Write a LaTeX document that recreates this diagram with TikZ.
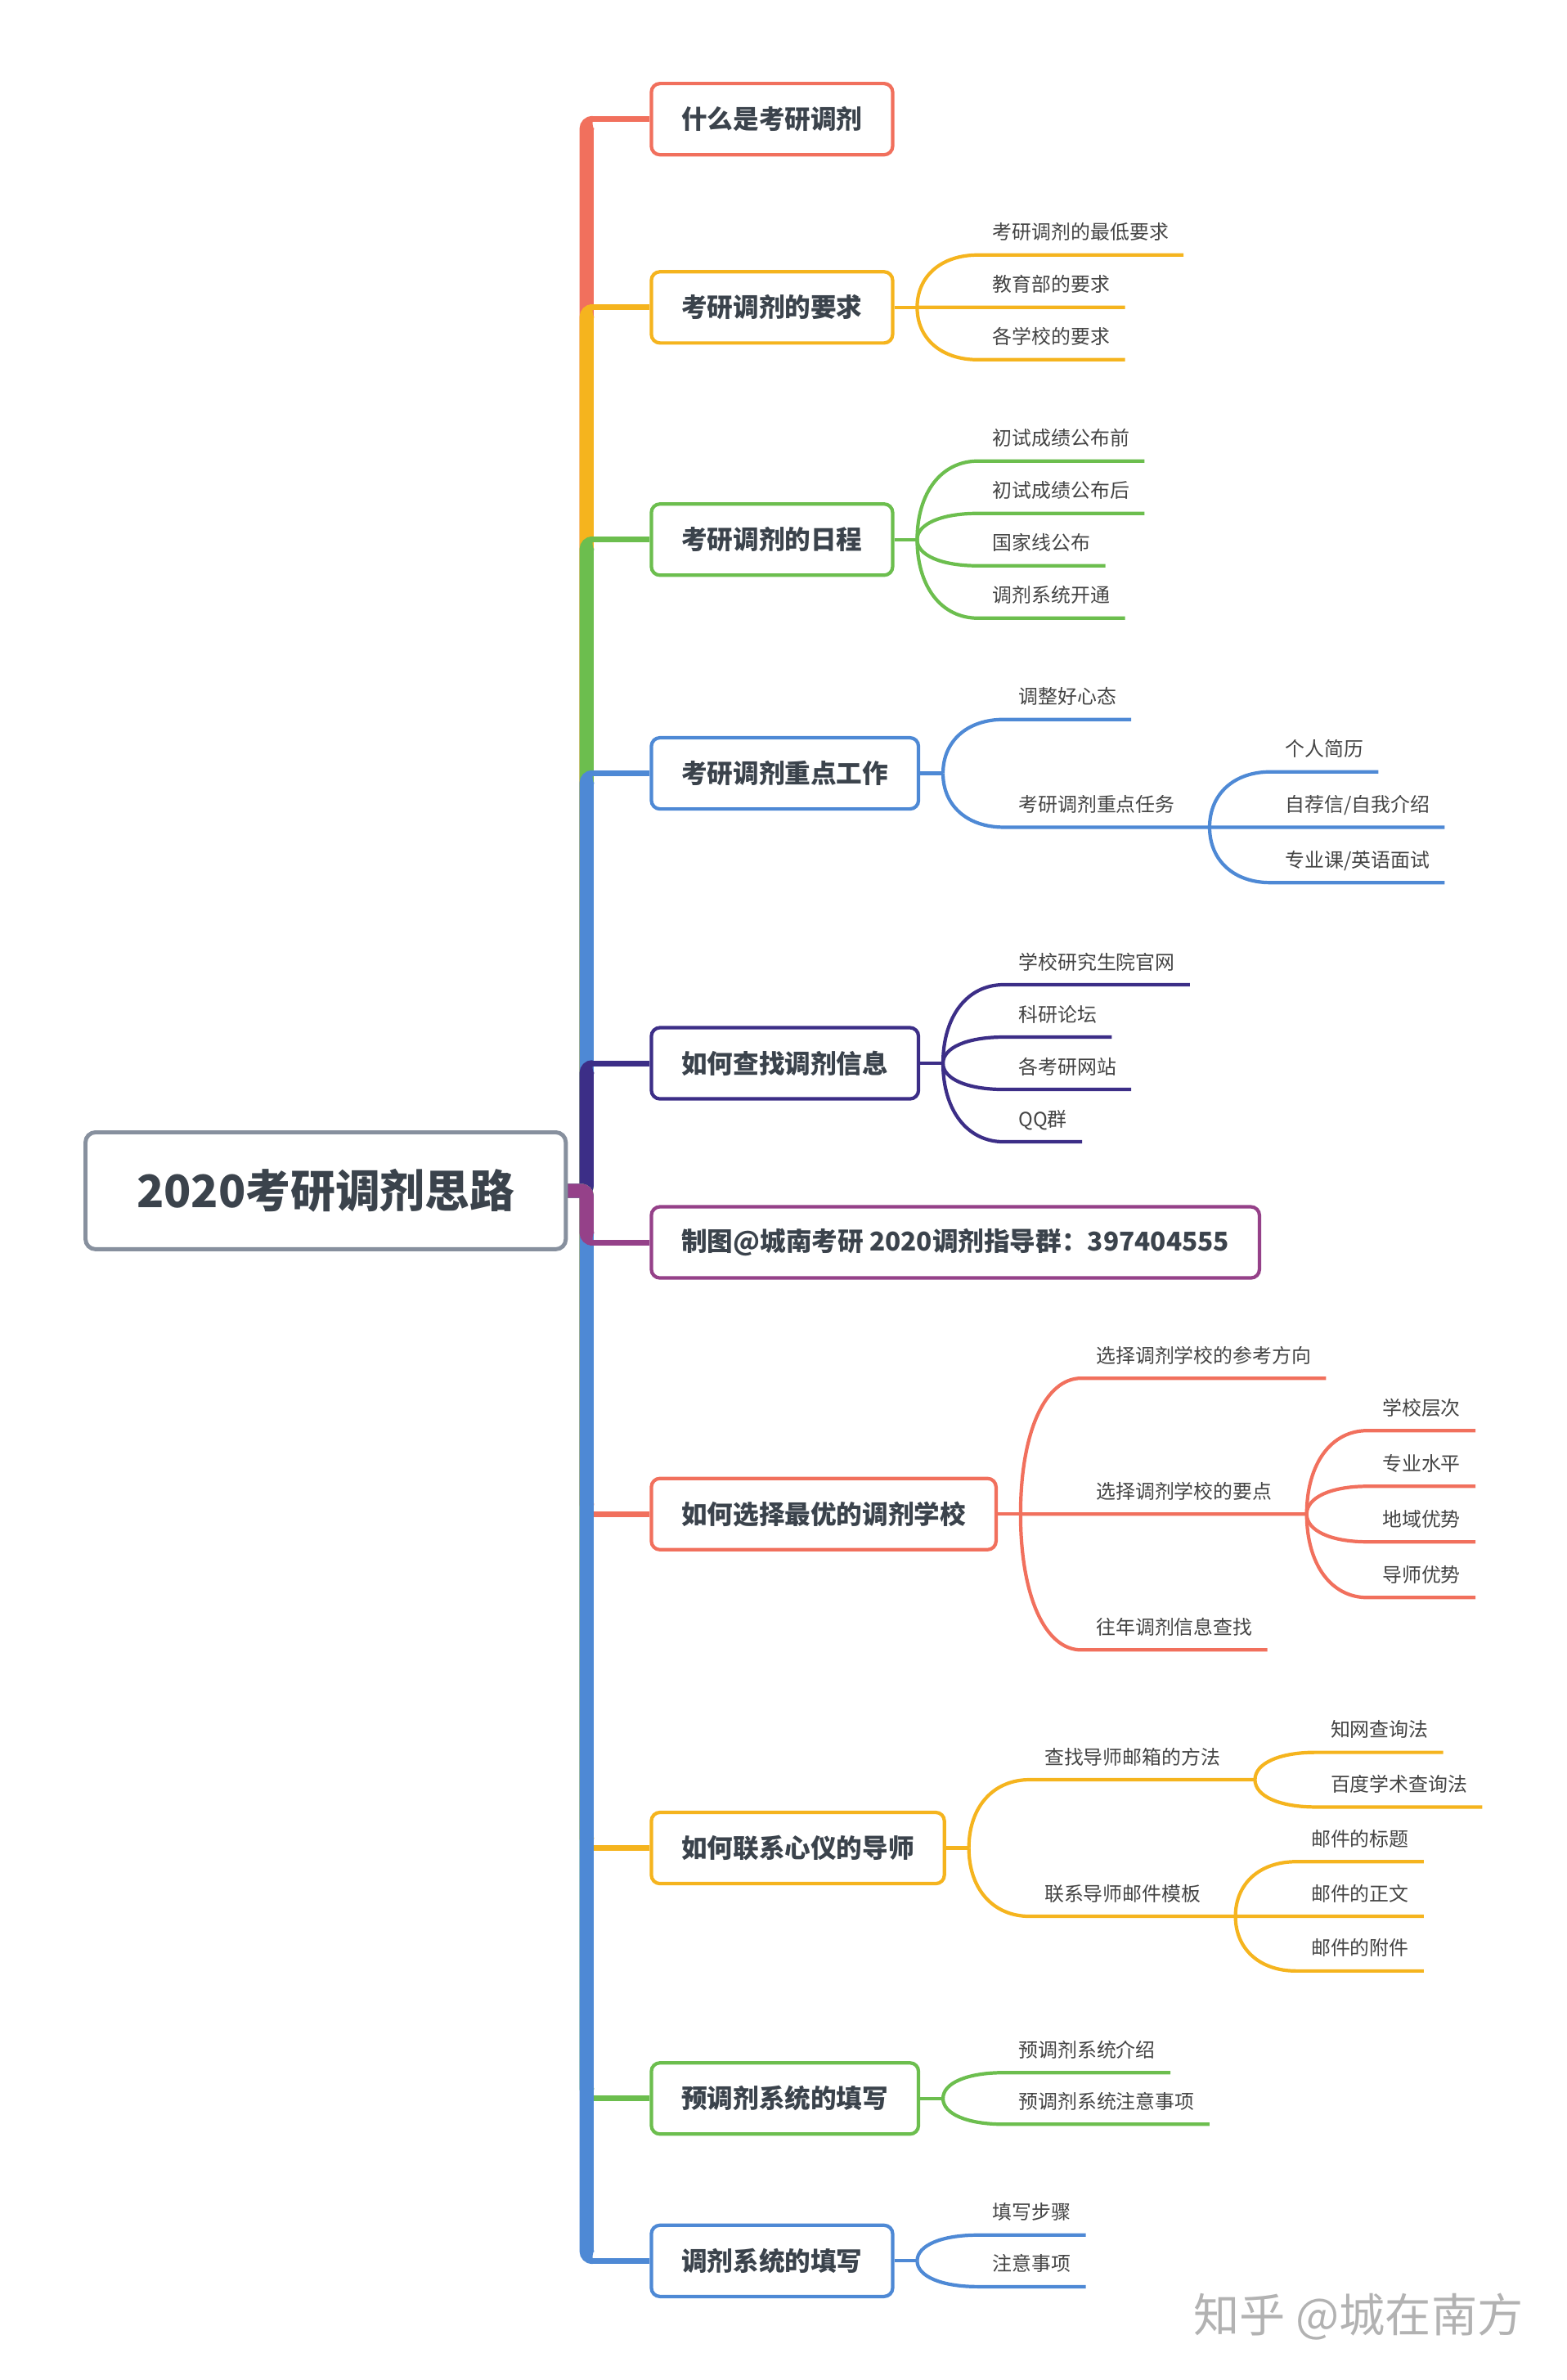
\documentclass[tikz,border=0pt]{standalone}
\usepackage{fontspec}
\setmainfont{Noto Sans CJK SC}
\usetikzlibrary{calc}

\definecolor{cred}{HTML}{F1705D}
\definecolor{corange}{HTML}{F5B41E}
\definecolor{cgreen}{HTML}{6CBE4E}
\definecolor{cblue}{HTML}{4E89D5}
\definecolor{cpurple}{HTML}{3C2E87}
\definecolor{cmagenta}{HTML}{954189}
\definecolor{cgray}{HTML}{87909E}
\definecolor{topictxt}{HTML}{3B434C}
\definecolor{leaftxt}{HTML}{444444}

\tikzset{
  rootbox/.style={draw=cgray, line width=1.4pt, rounded corners=3.5pt, fill=white, text=topictxt,
    font=\bfseries\fontsize{15.6}{19}\selectfont, inner xsep=17.8pt, minimum height=40.7pt, anchor=west},
  topic/.style={draw=#1, line width=1.2pt, rounded corners=3pt, fill=white, text=topictxt,
    font=\bfseries\fontsize{9}{11}\selectfont, inner xsep=10.5pt, minimum height=24.8pt, anchor=west},
  leaf/.style={text=leaftxt, font=\fontsize{6.8}{8}\selectfont, inner xsep=5pt, inner ysep=5.2pt,
    text depth=0pt, anchor=south west},
  trunk/.style={draw=#1, line width=4.9pt, rounded corners=2pt},
  twig/.style={draw=#1, line width=1.2pt},
  zhihu/.style={text=gray!60, font=\fontsize{16}{19}\selectfont},
}

% spine from the root to a topic: colour, topic, offset of the corner
\newcommand{\limb}[3]{%
  \draw[trunk=#1] (root.east) -- (hub) -- ($(hub |- #2.west)+(0,#3)$) -- ++(4,0);
  \draw[twig=#1, line width=2pt] ($(hub |- #2.west)+(2,0)$) -- (#2.west);}
% curved twig from a junction to a leaf
\newcommand{\twigto}[3]{%
  \draw[twig=#1] (#2) .. controls ($(#2)!0.6!(#2 |- #3.south west)$)
    and ($(#3.south west)!0.6!(#2 |- #3.south west)$) .. (#3.south west)}

\begin{document}
\begin{tikzpicture}[x=0.018566cm, y=-0.018566cm]
\useasboundingbox (0,0) rectangle (1032,1568);

\node[rootbox] (root) at (55,784.5) {2020考研调剂思路};
\coordinate (hub) at (386.5,0 |- root.east);

\node[topic=cred] (t1) at (428,78.5) {什么是考研调剂};
\node[topic=corange] (t2) at (428,202.5) {考研调剂的要求};
\node[topic=cgreen] (t3) at (428,355.5) {考研调剂的日程};
\node[topic=cblue] (t4) at (428,509.5) {考研调剂重点工作};
\node[topic=cpurple] (t5) at (428,700.5) {如何查找调剂信息};
\node[topic=cmagenta] (t6) at (428,818.5) {制图@城南考研 2020调剂指导群：397404555};
\node[topic=cred] (t7) at (428,997.5) {如何选择最优的调剂学校};
\node[topic=corange] (t8) at (428,1217.5) {如何联系心仪的导师};
\node[topic=cgreen] (t9) at (428,1382.5) {预调剂系统的填写};
\node[topic=cblue] (t10) at (428,1489.5) {调剂系统的填写};

\limb{cred}{t1}{2.6}
\limb{corange}{t2}{2.6}
\limb{cgreen}{t3}{2.6}
\limb{cblue}{t4}{2.6}
\limb{cpurple}{t5}{2.6}
\limb{cred}{t7}{-2.6}
\limb{corange}{t8}{-2.6}
\limb{cgreen}{t9}{-2.6}
\limb{cblue}{t10}{-2.6}
\limb{cmagenta}{t6}{-2.6}

% 考研调剂的要求
\coordinate (j2) at ($(t2.east)+(15,0)$);
\node[leaf] (c21) at ($(j2)+(40,-34.5)$) {考研调剂的最低要求};
\node[leaf] (c22) at ($(j2)+(40,0)$) {教育部的要求};
\node[leaf] (c23) at ($(j2)+(40,34.5)$) {各学校的要求};
\draw[twig=corange] (t2.east) -- (j2);
\twigto{corange}{j2}{c21} -- (c21.south east);
\twigto{corange}{j2}{c22} -- (c22.south east);
\twigto{corange}{j2}{c23} -- (c23.south east);

% 考研调剂的日程
\coordinate (j3) at ($(t3.east)+(15,0)$);
\node[leaf] (c31) at ($(j3)+(40,-51.75)$) {初试成绩公布前};
\node[leaf] (c32) at ($(j3)+(40,-17.25)$) {初试成绩公布后};
\node[leaf] (c33) at ($(j3)+(40,17.25)$) {国家线公布};
\node[leaf] (c34) at ($(j3)+(40,51.75)$) {调剂系统开通};
\draw[twig=cgreen] (t3.east) -- (j3);
\twigto{cgreen}{j3}{c31} -- (c31.south east);
\twigto{cgreen}{j3}{c32} -- (c32.south east);
\twigto{cgreen}{j3}{c33} -- (c33.south east);
\twigto{cgreen}{j3}{c34} -- (c34.south east);

% 考研调剂重点工作
\coordinate (j4) at ($(t4.east)+(15,0)$);
\node[leaf] (c41) at ($(j4)+(40,-35.5)$) {调整好心态};
\node[leaf] (c42) at ($(j4)+(40,35.5)$) {考研调剂重点任务};
\coordinate (j42) at ($(c42.south east)+(13,0)$);
\node[leaf] (g421) at ($(j42)+(40,-36.5)$) {个人简历};
\node[leaf] (g422) at ($(j42)+(40,0)$) {自荐信/自我介绍};
\node[leaf] (g423) at ($(j42)+(40,36.5)$) {专业课/英语面试};
\draw[twig=cblue] (t4.east) -- (j4);
\twigto{cblue}{j4}{c41} -- (c41.south east);
\twigto{cblue}{j4}{c42} -- (j42);
\twigto{cblue}{j42}{g421} -- (g421.south east);
\twigto{cblue}{j42}{g422} -- (g422.south east);
\twigto{cblue}{j42}{g423} -- (g423.south east);

% 如何查找调剂信息
\coordinate (j5) at ($(t5.east)+(15,0)$);
\node[leaf] (c51) at ($(j5)+(40,-51.75)$) {学校研究生院官网};
\node[leaf] (c52) at ($(j5)+(40,-17.25)$) {科研论坛};
\node[leaf] (c53) at ($(j5)+(40,17.25)$) {各考研网站};
\node[leaf] (c54) at ($(j5)+(40,51.75)$) {QQ群};
\draw[twig=cpurple] (t5.east) -- (j5);
\twigto{cpurple}{j5}{c51} -- (c51.south east);
\twigto{cpurple}{j5}{c52} -- (c52.south east);
\twigto{cpurple}{j5}{c53} -- (c53.south east);
\twigto{cpurple}{j5}{c54} -- (c54.south east);

% 如何选择最优的调剂学校
\coordinate (j7) at ($(t7.east)+(15,0)$);
\node[leaf] (c71) at ($(j7)+(40,-89.5)$) {选择调剂学校的参考方向};
\node[leaf] (c72) at ($(j7)+(40,0)$) {选择调剂学校的要点};
\node[leaf] (c73) at ($(j7)+(40,89.5)$) {往年调剂信息查找};
\coordinate (j72) at ($(c72.south east)+(13,0)$);
\node[leaf] (g721) at ($(j72)+(40,-55)$) {学校层次};
\node[leaf] (g722) at ($(j72)+(40,-18.3)$) {专业水平};
\node[leaf] (g723) at ($(j72)+(40,18.3)$) {地域优势};
\node[leaf] (g724) at ($(j72)+(40,55)$) {导师优势};
\draw[twig=cred] (t7.east) -- (j7);
\twigto{cred}{j7}{c71} -- (c71.south east);
\twigto{cred}{j7}{c72} -- (j72);
\twigto{cred}{j7}{c73} -- (c73.south east);
\twigto{cred}{j72}{g721} -- (g721.south east);
\twigto{cred}{j72}{g722} -- (g722.south east);
\twigto{cred}{j72}{g723} -- (g723.south east);
\twigto{cred}{j72}{g724} -- (g724.south east);

% 如何联系心仪的导师
\coordinate (j8) at ($(t8.east)+(15,0)$);
\node[leaf] (c81) at ($(j8)+(40,-45)$) {查找导师邮箱的方法};
\node[leaf] (c82) at ($(j8)+(40,45)$) {联系导师邮件模板};
\coordinate (j81) at ($(c81.south east)+(13,0)$);
\coordinate (j82) at ($(c82.south east)+(13,0)$);
\node[leaf] (g811) at ($(j81)+(40,-18)$) {知网查询法};
\node[leaf] (g812) at ($(j81)+(40,18)$) {百度学术查询法};
\node[leaf] (g821) at ($(j82)+(40,-36)$) {邮件的标题};
\node[leaf] (g822) at ($(j82)+(40,0)$) {邮件的正文};
\node[leaf] (g823) at ($(j82)+(40,36)$) {邮件的附件};
\draw[twig=corange] (t8.east) -- (j8);
\twigto{corange}{j8}{c81} -- (j81);
\twigto{corange}{j8}{c82} -- (j82);
\twigto{corange}{j81}{g811} -- (g811.south east);
\twigto{corange}{j81}{g812} -- (g812.south east);
\twigto{corange}{j82}{g821} -- (g821.south east);
\twigto{corange}{j82}{g822} -- (g822.south east);
\twigto{corange}{j82}{g823} -- (g823.south east);

% 预调剂系统的填写
\coordinate (j9) at ($(t9.east)+(15,0)$);
\node[leaf] (c91) at ($(j9)+(40,-17)$) {预调剂系统介绍};
\node[leaf] (c92) at ($(j9)+(40,17)$) {预调剂系统注意事项};
\draw[twig=cgreen] (t9.east) -- (j9);
\twigto{cgreen}{j9}{c91} -- (c91.south east);
\twigto{cgreen}{j9}{c92} -- (c92.south east);

% 调剂系统的填写
\coordinate (j10) at ($(t10.east)+(15,0)$);
\node[leaf] (c101) at ($(j10)+(40,-17)$) {填写步骤};
\node[leaf] (c102) at ($(j10)+(40,17)$) {注意事项};
\draw[twig=cblue] (t10.east) -- (j10);
\twigto{cblue}{j10}{c101} -- (c101.south east);
\twigto{cblue}{j10}{c102} -- (c102.south east);

\node[zhihu] (wm) at (895,1526) {知乎 @城在南方};
\end{tikzpicture}
\end{document}
